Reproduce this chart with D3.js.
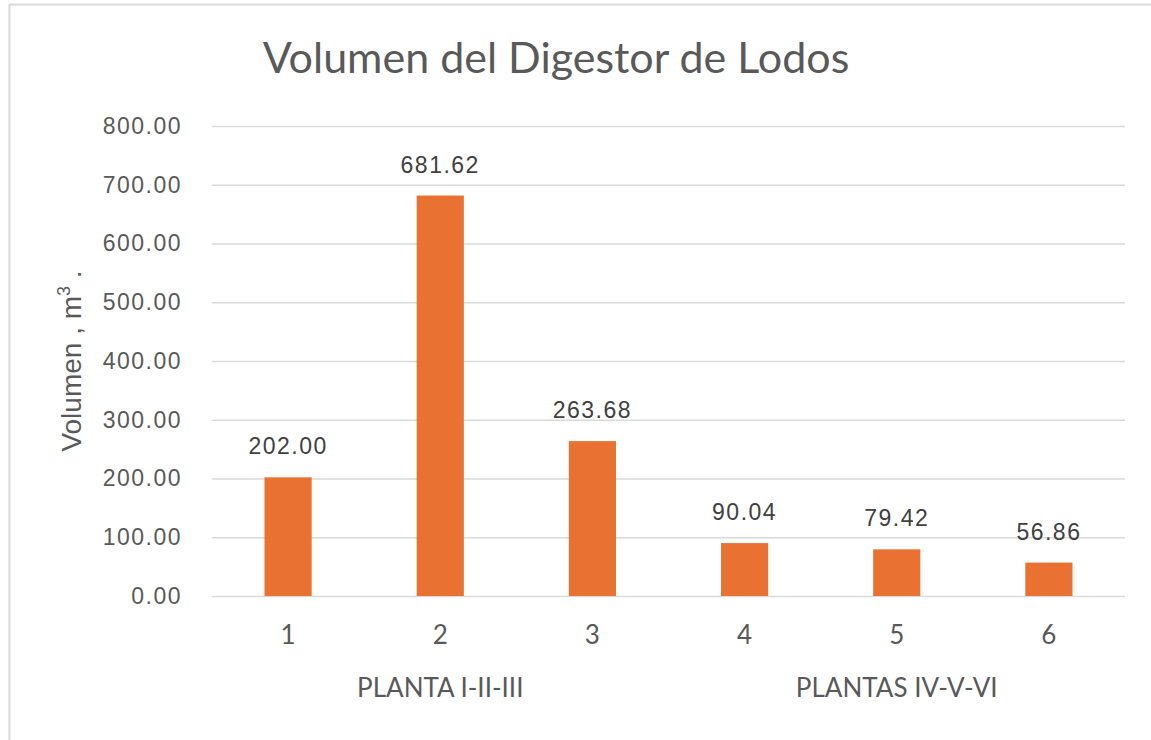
<!DOCTYPE html>
<html>
<head>
<meta charset="utf-8">
<script src="https://cdn.jsdelivr.net/npm/d3@7"></script>
<style>
  body { margin: 0; background: #fff; }
  svg { display: block; }
</style>
</head>
<body>
<div id="chart"></div>
<script>
// data
var categories = ['1', '2', '3', '4', '5', '6']
var volumes = [202.00, 681.62, 263.68, 90.04, 79.42, 56.86]
var groups = ['PLANTA I-II-III', 'PLANTAS IV-V-VI']
var groupOf = [0, 0, 0, 1, 1, 1]
var yTicks = [0, 100, 200, 300, 400, 500, 600, 700, 800]

var W = 1151
var H = 740
var margin = { left: 212, right: 26, top: 126, bottom: 144 }

var arial = 'Liberation Sans, Arial, sans-serif'
var aptos = 'Lato, Open Sans, sans-serif'

var svg = d3.select('#chart').append('svg')
  .attr('width', W)
  .attr('height', H)

// frame (only top/left edges show in the cropped picture)
svg.append('line').attr('x1', 9).attr('x2', W).attr('y1', 4.5).attr('y2', 4.5)
  .attr('stroke', '#d9d9d9').attr('stroke-width', 2)
svg.append('line').attr('x1', 9.5).attr('x2', 9.5).attr('y1', 4).attr('y2', H)
  .attr('stroke', '#d9d9d9').attr('stroke-width', 2)

var x = d3.scaleBand()
  .domain(categories)
  .range([margin.left, W - margin.right])
  .paddingInner(0.69)
  .paddingOuter(0.345)

var y = d3.scaleLinear()
  .domain([0, 800])
  .range([H - margin.bottom, margin.top])

// gridlines + y labels
var yAxis = svg.append('g')
  .attr('transform', 'translate(' + margin.left + ',0)')
  .call(d3.axisLeft(y).tickValues(yTicks).tickFormat(d3.format('.2f'))
    .tickSize(-(W - margin.left - margin.right)).tickPadding(30))
yAxis.select('.domain').remove()
yAxis.selectAll('.tick line').attr('stroke', '#d9d9d9').attr('stroke-width', 1.5)
yAxis.selectAll('.tick text')
  .attr('fill', '#595959')
  .style('font-family', arial)
  .style('font-size', '23px')
  .style('letter-spacing', '1.5px')

// bars
svg.append('g').selectAll('rect')
  .data(volumes)
  .join('rect')
  .attr('x', function (d, i) { return x(categories[i]) })
  .attr('width', x.bandwidth())
  .attr('y', function (d) { return y(d) })
  .attr('height', function (d) { return y(0) - y(d) })
  .attr('fill', '#e97132')

// data labels
svg.append('g').selectAll('text')
  .data(volumes)
  .join('text')
  .attr('x', function (d, i) { return x(categories[i]) + x.bandwidth() / 2 })
  .attr('y', function (d) { return y(d) - 23 })
  .attr('text-anchor', 'middle')
  .attr('fill', '#404040')
  .style('font-family', arial)
  .style('font-size', '23px')
  .style('letter-spacing', '1.5px')
  .text(function (d) { return d.toFixed(2) })

// category labels
svg.append('g').selectAll('text')
  .data(categories)
  .join('text')
  .attr('x', function (d) { return x(d) + x.bandwidth() / 2 })
  .attr('y', 644)
  .attr('text-anchor', 'middle')
  .attr('fill', '#595959')
  .style('font-family', aptos)
  .style('font-size', '26px')
  .text(function (d) { return d })

// group labels, centred under each group of categories
svg.append('g').selectAll('text')
  .data(groups)
  .join('text')
  .attr('x', function (g, gi) {
    var idx = categories.filter(function (c, i) { return groupOf[i] === gi })
    var first = x(idx[0])
    var last = x(idx[idx.length - 1]) + x.bandwidth()
    return (first + last) / 2
  })
  .attr('y', 697)
  .attr('text-anchor', 'middle')
  .attr('fill', '#595959')
  .style('font-family', aptos)
  .style('font-size', '26px')
  .text(function (d) { return d })

// title
svg.append('text')
  .attr('x', 556)
  .attr('y', 73)
  .attr('text-anchor', 'middle')
  .attr('fill', '#595959')
  .style('font-family', aptos)
  .style('font-size', '43px')
  .text('Volumen del Digestor de Lodos')

// y axis title
var yt = svg.append('text')
  .attr('transform', 'translate(81,' + ((y(0) + y(800)) / 2) + ') rotate(-90)')
  .attr('text-anchor', 'middle')
  .attr('fill', '#595959')
  .style('font-family', arial)
  .style('font-size', '28px')
yt.append('tspan').text('Volumen , m')
yt.append('tspan').attr('dy', -11).style('font-size', '18px').text('3')
yt.append('tspan').attr('dy', 11).text(' .')
</script>
</body>
</html>
